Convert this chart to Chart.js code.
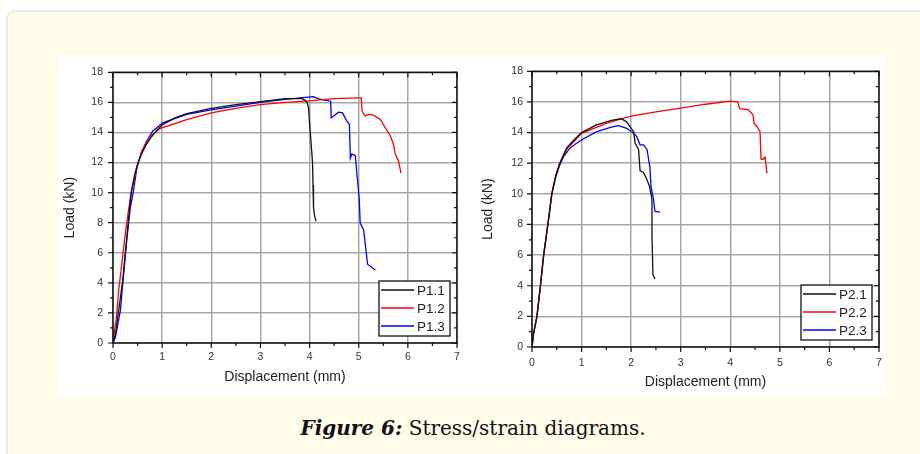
<!DOCTYPE html>
<html>
<head>
<meta charset="utf-8">
<script src="https://cdn.jsdelivr.net/npm/chart.js@4/dist/chart.umd.min.js"></script>
<style>
body { margin: 0; width: 920px; height: 454px; overflow: hidden; position: relative; background: #fff; font-family: Arial, "Liberation Sans", sans-serif; }
#panel { position: absolute; left: 6px; top: 10px; width: 950px; height: 480px; background: #fffce9; border: 2px solid #ecebdf; border-radius: 9px; }
#white { position: absolute; left: 58px; top: 56px; width: 828px; height: 340px; background: #fff; }
canvas { position: absolute; top: 56px; }
#c1 { left: 58px; }
#c2 { left: 470px; }
#caption { position: absolute; left: 0; width: 946px; top: 416px; text-align: center; font: 20px "DejaVu Serif", serif; color: #111; }
</style>
</head>
<body>
<div id="panel"></div>
<div id="white"></div>
<canvas id="c1" width="412" height="340"></canvas>
<canvas id="c2" width="416" height="340"></canvas>
<div id="caption"><b><i>Figure 6:</i></b> Stress/strain diagrams.</div>
<script>
// tick labels
var xTicks = [0, 1, 2, 3, 4, 5, 6, 7];
var yTicks = [0, 2, 4, 6, 8, 10, 12, 14, 16, 18];

// left chart, displacement (mm) / load (kN)
var p11x = [0, 0.05, 0.1, 0.15, 0.2, 0.25, 0.31, 0.37, 0.44, 0.51, 0.6, 0.68, 0.78, 0.88, 1.0, 1.25, 1.5, 2.0, 2.5, 3.0, 3.5, 3.85, 3.9, 3.95, 3.98, 4.01, 4.04, 4.06, 4.07, 4.08, 4.1, 4.13];
var p11y = [0, 0.6, 1.8, 3.0, 4.2, 6.0, 8.0, 10.0, 11.2, 12.0, 12.7, 13.2, 13.7, 14.1, 14.5, 14.95, 15.25, 15.6, 15.85, 16.05, 16.25, 16.25, 16.15, 16.0, 15.6, 14.2, 12.9, 12.0, 10.5, 9.0, 8.5, 8.1];

var p12x = [0, 0.03, 0.07, 0.115, 0.17, 0.24, 0.31, 0.37, 0.48, 0.58, 0.75, 0.95, 1.5, 2.0, 2.5, 3.0, 3.5, 4.0, 4.5, 5.0, 5.05, 5.07, 5.13, 5.2, 5.3, 5.44, 5.56, 5.64, 5.71, 5.74, 5.81, 5.86];
var p12y = [0, 0.83, 1.7, 3.5, 5.0, 7.0, 8.7, 10.0, 11.6, 12.7, 13.7, 14.25, 14.85, 15.3, 15.6, 15.85, 16.0, 16.1, 16.25, 16.3, 16.3, 15.4, 15.1, 15.2, 15.15, 14.87, 14.2, 13.8, 13.2, 12.6, 12.1, 11.3];

var p13x = [0, 0.05, 0.1, 0.15, 0.2, 0.285, 0.35, 0.41, 0.49, 0.58, 0.68, 0.81, 1.02, 1.5, 2.0, 2.5, 3.0, 3.5, 3.8, 4.08, 4.18, 4.43, 4.44, 4.49, 4.59, 4.67, 4.76, 4.81, 4.83, 4.86, 4.93, 5.01, 5.03, 5.1, 5.18, 5.34];
var p13y = [0, 0.4, 1.27, 2.15, 4.0, 7.0, 8.95, 10.0, 11.7, 12.7, 13.4, 14.1, 14.65, 15.2, 15.5, 15.75, 16.0, 16.2, 16.3, 16.38, 16.23, 16.08, 14.98, 15.09, 15.35, 15.3, 14.76, 14.54, 12.29, 12.57, 12.46, 9.61, 7.97, 7.54, 5.24, 4.84];

// right chart
var p21x = [0, 0.03, 0.1, 0.17, 0.235, 0.32, 0.4, 0.48, 0.56, 0.7, 0.84, 1.0, 1.3, 1.6, 1.8, 1.91, 2.05, 2.08, 2.15, 2.18, 2.25, 2.3, 2.37, 2.42, 2.42, 2.44, 2.48];
var p21y = [0, 0.86, 2.0, 4.0, 6.0, 8.0, 10.0, 11.2, 12.0, 13.0, 13.5, 14.0, 14.5, 14.8, 14.9, 14.7, 14.06, 13.3, 12.9, 11.5, 11.4, 11.06, 10.5, 9.66, 7.3, 4.72, 4.44];

var p22x = [0, 0.03, 0.1, 0.17, 0.235, 0.32, 0.4, 0.48, 0.56, 0.7, 0.84, 1.0, 1.5, 1.8, 2.0, 2.5, 3.0, 3.5, 4.0, 4.15, 4.19, 4.36, 4.46, 4.48, 4.53, 4.6, 4.62, 4.66, 4.7, 4.72, 4.74];
var p22y = [0, 0.86, 2.0, 4.0, 6.0, 8.0, 10.0, 11.2, 12.0, 12.9, 13.4, 13.95, 14.6, 14.9, 15.07, 15.35, 15.6, 15.85, 16.05, 16.0, 15.56, 15.5, 15.14, 14.6, 14.43, 14.07, 12.28, 12.24, 12.4, 11.92, 11.34];

var p23x = [0, 0.03, 0.1, 0.17, 0.235, 0.32, 0.4, 0.47, 0.55, 0.64, 0.77, 0.9, 1.04, 1.31, 1.6, 1.75, 1.91, 2.05, 2.11, 2.18, 2.25, 2.32, 2.38, 2.4, 2.45, 2.48, 2.58];
var p23y = [0, 0.86, 2.0, 4.0, 6.0, 8.0, 10.0, 11.0, 11.8, 12.45, 13.0, 13.3, 13.6, 14.06, 14.35, 14.45, 14.28, 13.96, 13.75, 13.2, 13.2, 12.9, 11.7, 10.5, 9.66, 8.85, 8.8];

var colors = ['#111111', '#ff0000', '#0000ff'];

function pts(xs, ys) {
    return xs.map(function(x, i){ return {x: x, y: ys[i]}; });
}

function series(label, xs, ys, color) {
    return { label: label, data: pts(xs, ys), borderColor: color, borderWidth: 1.3, pointRadius: 0, tension: 0, fill: false };
}

// Origin-like frame, minor/major ticks and a boxed legend
var frameTicks = {
    id: 'frameTicks',
    afterDraw: function(chart) {
        var ctx = chart.ctx, a = chart.chartArea, x = chart.scales.x, y = chart.scales.y;
        ctx.save();
        ctx.strokeStyle = '#111';
        ctx.lineWidth = 1.5;
        ctx.strokeRect(a.left, a.top, a.right - a.left, a.bottom - a.top);
        ctx.lineWidth = 1.2;
        ctx.beginPath();
        for (var v = 0; v <= 7; v += 0.5) {
            var px = x.getPixelForValue(v), len = v % 1 === 0 ? 5 : 3;
            ctx.moveTo(px, a.bottom); ctx.lineTo(px, a.bottom + len);
            ctx.moveTo(px, a.top); ctx.lineTo(px, a.top + len);
        }
        for (var w = 0; w <= 18; w += 1) {
            var py = y.getPixelForValue(w), l2 = w % 2 === 0 ? 5 : 3;
            ctx.moveTo(a.left, py); ctx.lineTo(a.left - l2, py);
            ctx.moveTo(a.right, py); ctx.lineTo(a.right - l2, py);
        }
        ctx.stroke();

        // legend box
        var bw = 71, bh = 55;
        var bx = a.right - 7 - bw, by = a.bottom - 7 - bh;
        ctx.fillStyle = '#fff';
        ctx.fillRect(bx, by, bw, bh);
        ctx.lineWidth = 1.3;
        ctx.strokeStyle = '#111';
        ctx.strokeRect(bx, by, bw, bh);
        ctx.font = '13.5px Arial, "Liberation Sans"';
        ctx.textBaseline = 'middle';
        chart.data.datasets.forEach(function(ds, i) {
            var ry = by + 9 + i * 18;
            ctx.strokeStyle = ds.borderColor;
            ctx.lineWidth = 1.4;
            ctx.beginPath();
            ctx.moveTo(bx + 2, ry); ctx.lineTo(bx + 35, ry);
            ctx.stroke();
            ctx.fillStyle = '#222';
            ctx.fillText(ds.label, bx + 38, ry + 1);
        });
        ctx.restore();
    }
};

function makeChart(id, datasets, lay) {
    new Chart(document.getElementById(id), {
        type: 'line',
        data: { datasets: datasets },
        plugins: [frameTicks],
        options: {
            responsive: false,
            animation: false,
            layout: { padding: { top: lay.top, right: lay.right, left: 0, bottom: 0 } },
            plugins: { legend: { display: false }, tooltip: { enabled: false } },
            scales: {
                x: {
                    type: 'linear', min: 0, max: 7,
                    afterBuildTicks: function(s){ s.ticks = xTicks.map(function(v){ return {value: v}; }); },
                    afterFit: function(s){ s.height = lay.xh; s.paddingLeft = 0; s.paddingRight = 0; },
                    grid: { color: '#a8a8a8', lineWidth: 1.5, drawTicks: false },
                    border: { display: false },
                    ticks: { padding: lay.xpad, color: '#333', font: { size: 10.5, family: 'Arial' }, maxRotation: 0 },
                    title: { display: true, text: 'Displacement (mm)', color: '#222', font: { size: 14, family: 'Arial' }, padding: { top: 0, bottom: lay.xtp } }
                },
                y: {
                    min: 0, max: 18,
                    afterBuildTicks: function(s){ s.ticks = yTicks.map(function(v){ return {value: v}; }); },
                    afterFit: function(s){ s.width = lay.yw; },
                    grid: { color: '#a8a8a8', lineWidth: 1.5, drawTicks: false },
                    border: { display: false },
                    ticks: { padding: lay.ypad, color: '#333', font: { size: 10.5, family: 'Arial' } },
                    title: { display: true, text: 'Load (kN)', color: '#222', font: { size: 14, family: 'Arial' }, padding: { top: lay.ytp, bottom: 0 } }
                }
            }
        }
    });
}

makeChart('c1', [
    series('P1.1', p11x, p11y, colors[0]),
    series('P1.2', p12x, p12y, colors[1]),
    series('P1.3', p13x, p13y, colors[2])
], { top: 13, right: 13, xh: 53, yw: 55, xpad: 8, ypad: 10, xtp: 10, ytp: 4 });

makeChart('c2', [
    series('P2.1', p21x, p21y, colors[0]),
    series('P2.2', p22x, p22y, colors[1]),
    series('P2.3', p23x, p23y, colors[2])
], { top: 11, right: 7, xh: 49, yw: 62, xpad: 10, ypad: 9, xtp: 5, ytp: 10 });
</script>
</body>
</html>
